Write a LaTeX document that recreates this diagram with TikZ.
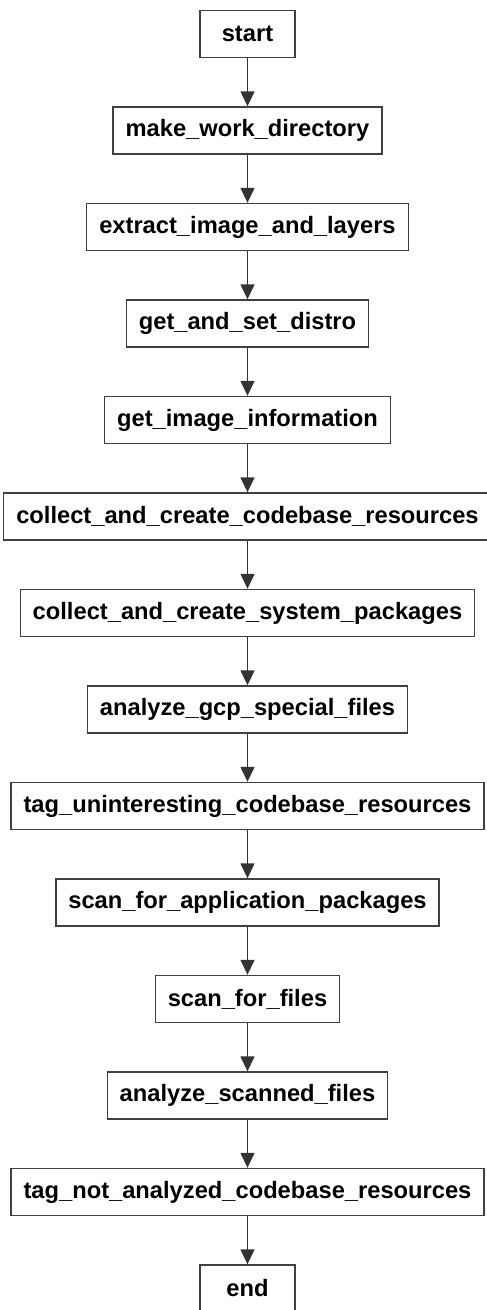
\documentclass[tikz,border=0pt]{standalone}
\usepackage{fontspec}
\setmainfont{Liberation Sans}
\usetikzlibrary{arrows.meta}

\tikzset{
    stepbox/.style={draw=black!75, line width=1.4pt, minimum width=95pt, minimum height=47pt,
        inner xsep=12.5pt, font=\fontsize{23.7}{27}\selectfont\bfseries},
    flow/.style={draw=black!80, line width=1.4pt, -{Triangle[length=15pt,width=14pt]}}
}

\begin{document}
\begin{tikzpicture}[x=1pt, y=1pt]
    \useasboundingbox (0, 0) rectangle (487, -1310);

    \node[stepbox] (0) at (247.5, -34) {start};
    \node[stepbox] (1) at (247.5, -130.5) {make\_work\_directory};
    \node[stepbox] (2) at (247.5, -227) {extract\_image\_and\_layers};
    \node[stepbox] (3) at (247.5, -323.5) {get\_and\_set\_distro};
    \node[stepbox] (4) at (247.5, -420) {get\_image\_information};
    \node[stepbox] (5) at (247.5, -516.5) {collect\_and\_create\_codebase\_resources};
    \node[stepbox] (6) at (247.5, -613) {collect\_and\_create\_system\_packages};
    \node[stepbox] (7) at (247.5, -709.5) {analyze\_gcp\_special\_files};
    \node[stepbox] (8) at (247.5, -806) {tag\_uninteresting\_codebase\_resources};
    \node[stepbox] (9) at (247.5, -902.5) {scan\_for\_application\_packages};
    \node[stepbox] (10) at (247.5, -999) {scan\_for\_files};
    \node[stepbox] (11) at (247.5, -1095.5) {analyze\_scanned\_files};
    \node[stepbox] (12) at (247.5, -1192) {tag\_not\_analyzed\_codebase\_resources};
    \node[stepbox] (13) at (247.5, -1288.5) {end};

    \draw[flow] (0) -- (1);
    \draw[flow] (1) -- (2);
    \draw[flow] (2) -- (3);
    \draw[flow] (3) -- (4);
    \draw[flow] (4) -- (5);
    \draw[flow] (5) -- (6);
    \draw[flow] (6) -- (7);
    \draw[flow] (7) -- (8);
    \draw[flow] (8) -- (9);
    \draw[flow] (9) -- (10);
    \draw[flow] (10) -- (11);
    \draw[flow] (11) -- (12);
    \draw[flow] (12) -- (13);
\end{tikzpicture}
\end{document}
